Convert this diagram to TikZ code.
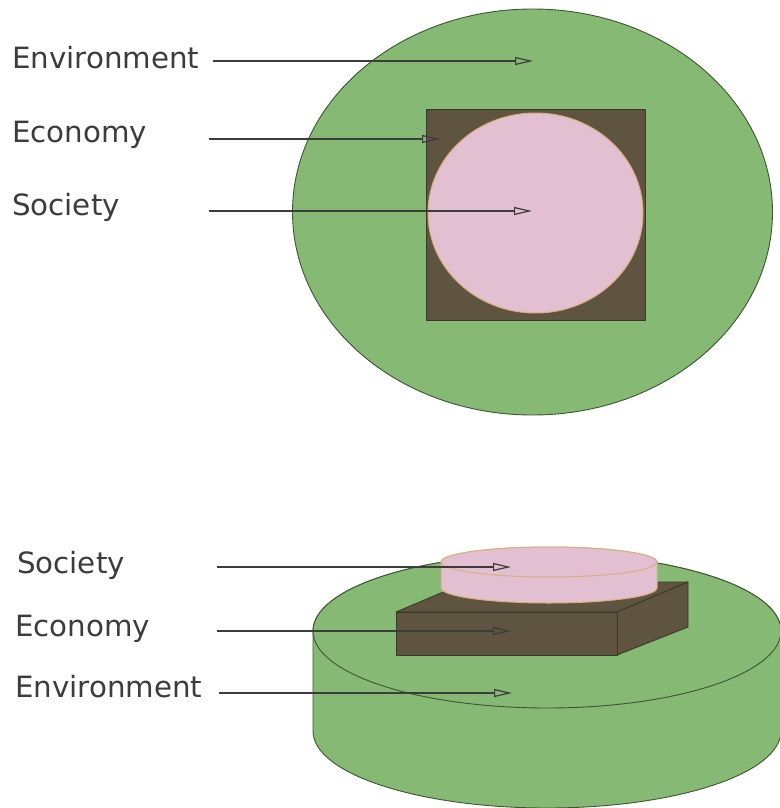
\documentclass[tikz,border=0pt]{standalone}
\usepackage{fontspec}
\setmainfont{DejaVu Sans}
\usetikzlibrary{arrows.meta}
\definecolor{envgreen}{RGB}{134,185,115}
\definecolor{envline}{RGB}{60,85,50}
\definecolor{ecobrown}{RGB}{94,84,63}
\definecolor{ecoline}{RGB}{55,60,40}
\definecolor{socpink}{RGB}{226,192,210}
\definecolor{socline}{RGB}{215,175,125}
\definecolor{txtgray}{RGB}{60,60,60}
\definecolor{arrgray}{RGB}{60,60,60}
\tikzset{
  lbl/.style={anchor=base west, inner sep=0pt, text=txtgray, font=\fontsize{29.3}{34}\selectfont},
  pointer/.style={draw=arrgray, line width=1.5pt, -{Triangle[open, length=18pt, width=8pt, line width=1.2pt]}},
  envshape/.style={fill=envgreen, draw=envline, line width=0.9pt},
  ecoshape/.style={fill=ecobrown, draw=ecoline, line width=0.9pt, line join=round},
  socshape/.style={fill=socpink, draw=socline, line width=1pt}
}
\begin{document}
\begin{tikzpicture}[x=1pt,y=-1pt]
\useasboundingbox (0,0) rectangle (779,808);
% ---------- top view ----------
\path[envshape] (532.5,212) ellipse [x radius=240pt, y radius=203pt];
\path[ecoshape] (426,109) rectangle (645,320);
\path[socshape] (535.5,213) ellipse [x radius=107.5pt, y radius=100pt];
\node[lbl] (tEnv) at (12,69) {Environment};
\node[lbl] (tEco) at (12,142) {Economy};
\node[lbl] (tSoc) at (12,215) {Society};
\coordinate (tEnvS) at (213,61);  \coordinate (tEnvT) at (533,61);
\coordinate (tEcoS) at (209,139); \coordinate (tEcoT) at (440,139);
\coordinate (tSocS) at (209,211); \coordinate (tSocT) at (532,211);
\draw[pointer] (tEnvS) -- (tEnvT);
\draw[pointer] (tEcoS) -- (tEcoT);
\draw[pointer] (tSocS) -- (tSocT);
% ---------- side view ----------
% green cylinder
\path[envshape] (313,631) -- (313,731)
  arc[start angle=180, end angle=360, x radius=234pt, y radius=77pt]
  -- (781,631)
  arc[start angle=0, end angle=180, x radius=234pt, y radius=77pt] -- cycle;
\path[envshape] (547,631) ellipse [x radius=234pt, y radius=77pt];
% brown box
\path[ecoshape] (396,612) -- (467,582) -- (688,582) -- (617,612) -- cycle;
\path[ecoshape] (617,612) -- (688,582) -- (688,627) -- (617,655) -- cycle;
\path[ecoshape] (396,612) rectangle (617,655);
% pink disk
\path[socshape] (441,562) -- (441,588)
  arc[start angle=180, end angle=360, x radius=108pt, y radius=15pt]
  -- (657,562)
  arc[start angle=0, end angle=180, x radius=108pt, y radius=15pt] -- cycle;
\path[socshape] (549,562) ellipse [x radius=108pt, y radius=15pt];
\node[lbl] (bSoc) at (17,573) {Society};
\node[lbl] (bEco) at (15,636) {Economy};
\node[lbl] (bEnv) at (15,697) {Environment};
\coordinate (bSocS) at (217,567); \coordinate (bSocT) at (511,567);
\coordinate (bEcoS) at (217,631); \coordinate (bEcoT) at (511,631);
\coordinate (bEnvS) at (219,693); \coordinate (bEnvT) at (512,693);
\draw[pointer] (bSocS) -- (bSocT);
\draw[pointer] (bEcoS) -- (bEcoT);
\draw[pointer] (bEnvS) -- (bEnvT);
\end{tikzpicture}
\end{document}
